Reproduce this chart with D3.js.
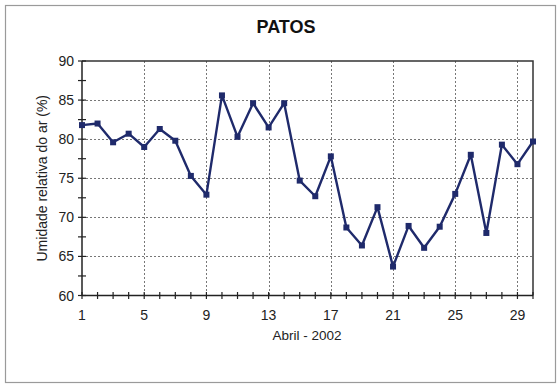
<!DOCTYPE html>
<html>
<head>
<meta charset="utf-8">
<script src="https://cdn.jsdelivr.net/npm/d3@7/dist/d3.min.js"></script>
<style>
  html, body { margin: 0; padding: 0; background: #fff; }
  svg { display: block; font-family: "Liberation Sans", Arial, sans-serif; }
</style>
</head>
<body>
<svg id="chart" width="559" height="386"></svg>
<script>
// Relative humidity, Patos, April 2002
const days = d3.range(1, 31);
const humidity = [81.8, 82.0, 79.6, 80.7, 79.0, 81.3, 79.8, 75.3, 72.9, 85.6,
                  80.3, 84.6, 81.5, 84.6, 74.7, 72.7, 77.8, 68.7, 66.4, 71.3,
                  63.7, 68.9, 66.1, 68.8, 73.0, 78.0, 68.0, 79.3, 76.8, 79.7];
const xTickLabels = [1, 5, 9, 13, 17, 21, 25, 29];
const yTickLabels = [60, 65, 70, 75, 80, 85, 90];

const title = "PATOS";
const xTitle = "Abril - 2002";
const yTitle = "Umidade relativa do ar (%)";

const svg = d3.select("#chart");
const plot = { left: 82, right: 533, top: 61, bottom: 295.5 };

const x = d3.scaleLinear().domain([1, 30]).range([plot.left, plot.right]);
const y = d3.scaleLinear().domain([60, 90]).range([plot.bottom, plot.top]);

// outer frame
svg.append("rect")
  .attr("x", 5.5).attr("y", 5.5).attr("width", 550).attr("height", 377)
  .attr("fill", "#fff").attr("stroke", "#9a9a9a").attr("stroke-width", 1.2);

// gridlines
const grid = svg.append("g").attr("stroke", "#777").attr("stroke-width", 1)
  .attr("stroke-dasharray", "2,2");
grid.selectAll("line.h").data(yTickLabels.filter(v => v > 60 && v < 90)).join("line")
  .attr("x1", plot.left).attr("x2", plot.right)
  .attr("y1", d => Math.round(y(d)) + 0.5).attr("y2", d => Math.round(y(d)) + 0.5);
grid.selectAll("line.v").data(xTickLabels.filter(v => v > 1)).join("line")
  .attr("y1", plot.top).attr("y2", plot.bottom)
  .attr("x1", d => Math.round(x(d)) + 0.5).attr("x2", d => Math.round(x(d)) + 0.5);

// plot border (top and right)
svg.append("path")
  .attr("d", `M${plot.left},${plot.top}H${plot.right}V${plot.bottom}`)
  .attr("fill", "none").attr("stroke", "#333").attr("stroke-width", 1.5);

// y axis with minor ticks crossing the axis line
const yAxis = svg.append("g");
yAxis.append("line").attr("x1", plot.left).attr("x2", plot.left)
  .attr("y1", plot.top).attr("y2", plot.bottom).attr("stroke", "#222").attr("stroke-width", 1.5);
yAxis.selectAll("line.t").data(d3.range(60, 90.01, 2.5)).join("line")
  .attr("x1", plot.left - 4).attr("x2", plot.left + 4)
  .attr("y1", d => y(d)).attr("y2", d => y(d))
  .attr("stroke", "#222").attr("stroke-width", 1.2);
yAxis.selectAll("text").data(yTickLabels).join("text")
  .attr("x", plot.left - 8).attr("y", d => y(d) + 5)
  .attr("text-anchor", "end").attr("font-size", 14).attr("fill", "#222")
  .text(d => d);

// x axis with a tick at every day
const xAxis = svg.append("g");
xAxis.append("line").attr("x1", plot.left).attr("x2", plot.right)
  .attr("y1", plot.bottom).attr("y2", plot.bottom).attr("stroke", "#222").attr("stroke-width", 1.5);
xAxis.selectAll("line.t").data(days).join("line")
  .attr("x1", d => x(d)).attr("x2", d => x(d))
  .attr("y1", plot.bottom - 3.5).attr("y2", plot.bottom + 3.5)
  .attr("stroke", "#222").attr("stroke-width", 1.2);
xAxis.selectAll("text").data(xTickLabels).join("text")
  .attr("x", d => x(d)).attr("y", plot.bottom + 24)
  .attr("text-anchor", "middle").attr("font-size", 14).attr("fill", "#222")
  .text(d => d);

// titles
svg.append("text").attr("x", 286).attr("y", 33).attr("text-anchor", "middle")
  .attr("font-size", 18).attr("font-weight", "bold").attr("fill", "#111").text(title);
svg.append("text").attr("x", 307).attr("y", 340).attr("text-anchor", "middle")
  .attr("font-size", 13.5).attr("fill", "#222").text(xTitle);
svg.append("text").attr("transform", `translate(47,${(plot.top + plot.bottom) / 2}) rotate(-90)`)
  .attr("text-anchor", "middle").attr("font-size", 14).attr("fill", "#222").text(yTitle);

// series
const series = days.map((d, i) => [d, humidity[i]]);
svg.append("path").datum(series)
  .attr("fill", "none").attr("stroke", "#1f2a6b").attr("stroke-width", 2.4)
  .attr("stroke-linejoin", "round")
  .attr("d", d3.line().x(d => x(d[0])).y(d => y(d[1])));
svg.selectAll("rect.m").data(series).join("rect")
  .attr("x", d => x(d[0]) - 3).attr("y", d => y(d[1]) - 3)
  .attr("width", 6).attr("height", 6).attr("fill", "#1f2a6b");
</script>
</body>
</html>
